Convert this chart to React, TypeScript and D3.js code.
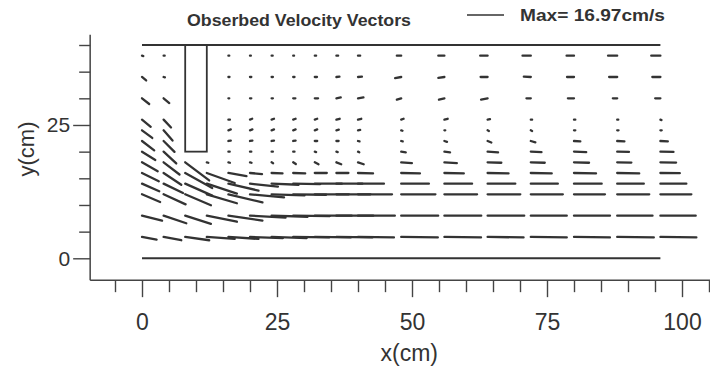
import React, { useEffect, useRef } from "react";
import * as d3 from "d3";

// measurement grid (cm)
const xCols = [0, 4, 8, 12, 16, 20, 24, 28, 32, 36, 40, 48, 56, 64, 72, 80, 88, 96];
const yRows = [38, 34, 30, 26, 24, 22, 20, 18, 16, 14, 12, 8, 4];

// horizontal velocity u (cm/s), one row per yRows entry, null = no point
const uRows: (number | null)[][] = [
  [0.6, 0.5, null, null, 0.4, 0.4, 0.5, 0.4, 0.6, 0.8, 1.0, -2.0, -2.8, -3.4, -3.8, -3.4, -4.2, -4.2],
  [1.9, 0.6, null, null, 0.5, 0.6, 0.6, 0.6, 1.0, 1.4, 1.8, -2.8, -2.8, -3.2, -3.2, -3.2, -3.7, -3.7],
  [3.3, 2.6, null, null, 0.4, 0.6, 0.6, 1.0, 1.5, 2.0, 2.5, -2.0, -2.5, -3.0, -2.0, -2.8, -2.0, -2.4],
  [4.0, 3.4, null, null, 0.7, 1.0, 1.1, 1.1, 1.1, 1.5, 1.5, 1.1, 1.5, 1.1, 0.6, 0.6, 0.5, 0.5],
  [4.7, 4.1, null, null, 1.1, 1.1, 1.1, 1.1, 1.1, 1.1, 1.0, 0.6, 0.4, 0.6, 0.6, 0.6, 0.6, 0.6],
  [5.6, 5.0, null, null, 1.1, 1.1, 1.1, 1.1, 1.1, 1.0, 0.7, 0.7, 1.2, 1.7, 2.1, 2.9, 3.3, 3.4],
  [6.1, 5.8, null, null, 0.6, 0.6, 0.6, 0.6, 0.6, 0.6, 0.6, 2.1, 2.6, 4.8, 4.9, 5.6, 5.4, 6.0],
  [7.2, 7.3, 11.0, 0.7, 0.7, 0.7, 0.7, 1.2, 1.7, 2.2, 2.6, 4.9, 5.7, 6.3, 6.4, 6.9, 6.5, 7.2],
  [7.7, 8.1, 12.4, 12.8, 8.3, 5.5, 5.0, 5.5, 5.5, 5.5, 6.9, 8.6, 8.9, 9.6, 9.6, 10.1, 10.1, 8.9],
  [7.9, 8.9, 12.4, 13.8, 13.8, 12.8, 12.4, 12.4, 12.4, 11.9, 11.9, 12.7, 12.7, 12.7, 12.4, 12.7, 12.2, 11.9],
  [8.3, 10.1, 11.8, 13.8, 15.6, 15.6, 15.1, 15.1, 15.6, 15.6, 15.6, 15.7, 15.0, 15.0, 14.7, 14.2, 14.7, 14.2],
  [9.2, 10.4, 11.8, 13.8, 15.6, 16.3, 16.5, 16.8, 16.9, 16.9, 16.9, 16.97, 16.9, 16.8, 16.5, 16.5, 16.2, 16.2],
  [6.7, 8.1, 11.0, 12.8, 13.8, 15.1, 16.1, 16.5, 16.5, 16.5, 16.5, 16.8, 16.8, 16.5, 16.5, 16.5, 16.8, 16.5],
];

// vertical velocity v (cm/s), same layout
const vRows: (number | null)[][] = [
  [-0.2, 0, null, null, 0, 0, 0, 0, 0, 0, 0, 0, 0, 0, 0, 0, 0, 0],
  [-1.6, -0.2, null, null, 0, 0, 0, 0, 0, 0.2, 0.2, -0.5, -0.4, 0, 0.2, 0, 0, 0],
  [-2.6, -2.2, null, null, 0, 0, 0, 0, 0, 0.4, 0.4, -0.6, -0.6, -0.6, 0, 0, 0, 0],
  [-3.3, -3.6, null, null, 0, 0.4, 0.4, 0.4, 0.4, 0.4, 0.4, 0.4, 0.4, 0.2, 0, 0, 0, -0.2],
  [-3.5, -4.7, null, null, 0.4, 0.4, 0.4, 0.4, 0.4, 0.3, 0.2, -0.2, 0, -0.3, -0.3, 0, 0, 0],
  [-4.3, -5.0, null, null, 0.2, 0.2, 0.2, 0.2, 0, 0, -0.2, -0.2, -0.4, -0.7, -0.6, -0.2, -0.2, -0.2],
  [-3.8, -5.4, null, null, 0, 0, 0, 0, -0.2, -0.2, -0.3, -0.3, -0.3, -0.3, -0.2, -0.2, -0.1, -0.1],
  [-4.1, -5.6, -8.3, -0.2, -0.2, -0.2, -0.4, -0.8, -0.9, -0.9, -0.9, -0.4, -0.4, -0.2, -0.2, -0.2, -0.1, -0.1],
  [-3.8, -5.4, -6.9, -4.6, -1.4, -0.5, -0.2, -0.2, 0, 0, -0.2, -0.2, -0.2, -0.2, -0.2, -0.2, -0.2, -0.1],
  [-3.5, -4.3, -5.5, -4.6, -3.2, -1.4, -0.5, -0.2, 0, 0, 0, 0, 0, 0, 0, 0, 0, 0],
  [-3.5, -4.6, -5.0, -4.1, -3.7, -1.4, -0.5, -0.2, 0, 0, 0, 0, 0, 0, 0, 0, 0, 0],
  [-2.3, -3.5, -3.8, -2.8, -2.3, -0.9, -0.5, -0.2, 0, 0, 0, 0, 0, 0, 0, 0, 0, 0],
  [-1.2, -1.5, -1.5, -0.9, -0.9, -0.5, -0.5, -0.2, -0.2, -0.2, -0.2, -0.2, -0.2, -0.2, -0.2, -0.2, -0.2, -0.2],
];

const maxSpeed = 16.97;
const xMajorTicks = [0, 25, 50, 75, 100];
const yMajorTicks = [0, 25];
const chartTitle = "Obserbed Velocity Vectors";
const legendText = "Max= 16.97cm/s";

// flume outline (cm)
const channelTop = 40;
const channelEnd = 96;
const gateLeft = 8;
const gateRight = 12;
const gateBottom = 20;

const W = 710;
const H = 373;
const font = "'Liberation Sans', Arial, Helvetica, sans-serif";
const ink = "#333";

export default function App() {
  const xAxisRef = useRef<SVGGElement | null>(null);
  const yAxisRef = useRef<SVGGElement | null>(null);

  const x = d3.scaleLinear().domain([0, 100]).range([142, 682]);
  const y = d3.scaleLinear().domain([0, 40]).range([258.3, 45]);
  // pixel length of a vector
  const len = d3.scaleLinear().domain([0, maxSpeed]).range([0, 37]);

  const axisY = y(-4.1);
  const axisX = x(-9.6);

  useEffect(() => {
    const gx = d3.select(xAxisRef.current);
    gx.selectAll("*").remove();
    const xMinor = d3.range(-5, 106, 5).filter((t) => !xMajorTicks.includes(t));
    gx.append("g").call(d3.axisBottom(x).tickValues(xMinor).tickSize(12).tickFormat(() => ""));
    gx.append("g").call(d3.axisBottom(x).tickValues(xMajorTicks).tickSize(17).tickPadding(17).tickFormat(d3.format("d")));
    gx.selectAll(".domain").remove();
    gx.selectAll("line").attr("stroke", "#444").attr("stroke-width", 1.4);
    gx.selectAll("g").attr("font-family", font).attr("font-size", 23);
    gx.selectAll("text").attr("fill", ink);

    const gy = d3.select(yAxisRef.current);
    gy.selectAll("*").remove();
    const yMinor = d3.range(5, 41, 5).filter((t) => !yMajorTicks.includes(t));
    gy.append("g").call(d3.axisLeft(y).tickValues(yMinor).tickSize(11).tickFormat(() => ""));
    gy.append("g").call(d3.axisLeft(y).tickValues(yMajorTicks).tickSize(17).tickPadding(3).tickFormat(d3.format("d")));
    gy.selectAll(".domain").remove();
    gy.selectAll("line").attr("stroke", "#444").attr("stroke-width", 1.4);
    gy.selectAll("g").attr("font-family", font).attr("font-size", 21);
    gy.selectAll("text").attr("fill", ink);
  }, []);

  const vectors: { x0: number; y0: number; x1: number; y1: number; key: string }[] = [];
  yRows.forEach((yr, i) => {
    xCols.forEach((xc, j) => {
      const u = uRows[i][j];
      const v = vRows[i][j];
      if (u === null || v === null) return;
      const x0 = x(xc);
      const y0 = y(yr);
      vectors.push({ x0, y0, x1: x0 + len(u), y1: y0 - len(v), key: `${i}-${j}` });
    });
  });

  return (
    <svg
      width={W}
      height={H}
      style={{ position: "absolute", left: 0, top: 0, background: "#fff" }}
      fontFamily={font}
    >
      <text
        x={187}
        y={26}
        fontSize={16}
        fontWeight="bold"
        fill={ink}
        textLength={224}
        lengthAdjust="spacingAndGlyphs"
      >
        {chartTitle}
      </text>
      <line x1={467} x2={467 + len(maxSpeed)} y1={15} y2={15} stroke={ink} strokeWidth={1.6} />
      <text
        x={520}
        y={21}
        fontSize={16}
        fontWeight="bold"
        fill={ink}
        textLength={145}
        lengthAdjust="spacingAndGlyphs"
      >
        {legendText}
      </text>

      {/* axes frame */}
      <line x1={axisX} x2={axisX} y1={y(41.9)} y2={axisY} stroke="#444" strokeWidth={1.5} />
      <line x1={axisX} x2={W} y1={axisY} y2={axisY} stroke="#444" strokeWidth={1.5} />
      <g ref={xAxisRef} transform={`translate(0,${axisY})`} />
      <g ref={yAxisRef} transform={`translate(${axisX},0)`} />

      <text x={x(49.5)} y={361} textAnchor="middle" fontSize={23} fill={ink}>
        x(cm)
      </text>
      <text
        transform={`translate(34,${y(20.5)}) rotate(-90)`}
        textAnchor="middle"
        fontSize={22}
        fill={ink}
      >
        y(cm)
      </text>

      {/* flume walls and gate */}
      <line x1={x(0)} x2={x(channelEnd)} y1={y(channelTop)} y2={y(channelTop)} stroke={ink} strokeWidth={2} />
      <line x1={x(0)} x2={x(channelEnd)} y1={y(0)} y2={y(0)} stroke={ink} strokeWidth={2} />
      <rect
        x={x(gateLeft)}
        y={y(channelTop)}
        width={x(gateRight) - x(gateLeft)}
        height={y(gateBottom) - y(channelTop)}
        fill="none"
        stroke={ink}
        strokeWidth={1.8}
      />

      {vectors.map((d) => (
        <line
          key={d.key}
          x1={d.x0}
          y1={d.y0}
          x2={d.x1}
          y2={d.y1}
          stroke={ink}
          strokeWidth={2.3}
          strokeLinecap="round"
        />
      ))}
    </svg>
  );
}
